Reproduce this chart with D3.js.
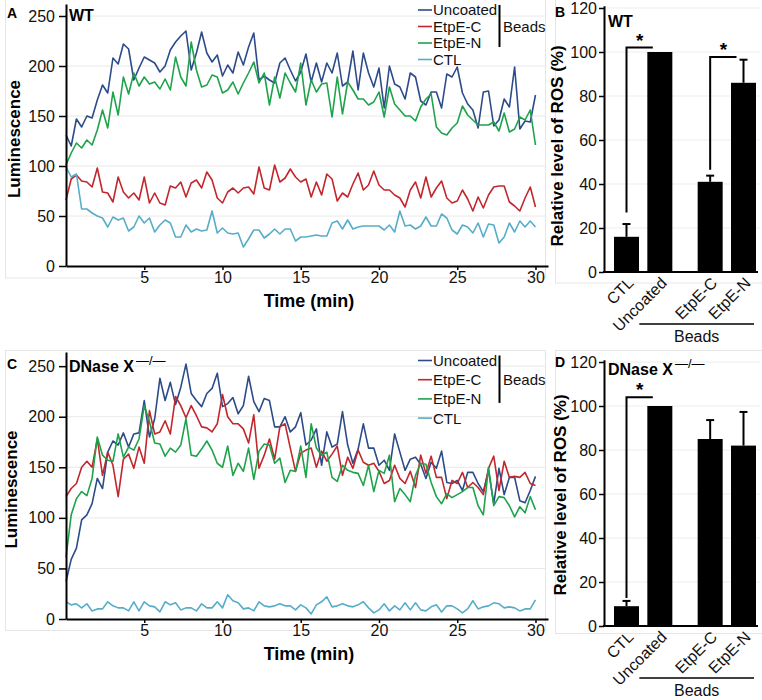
<!DOCTYPE html>
<html>
<head>
<meta charset="utf-8">
<script src="https://cdn.jsdelivr.net/npm/d3@7"></script>
<style>
  body { margin: 0; background: #fff; }
  svg { font-family: Arial, "Liberation Sans", sans-serif; }
</style>
</head>
<body>
<svg id="fig" width="762" height="700"></svg>
<script>
// sampling every 20 s over 30 min
const times = d3.range(91).map(i => i / 3);

const seriesNames = ['Uncoated', 'EtpE-C', 'EtpE-N', 'CTL'];
const seriesColors = ['#2c4b88', '#c1272d', '#1ea34b', '#57adc9'];

// panel A: WT
const wtUncoated = [131,120,147,139,150,148,166,181,173,208,202,222,217,186,198,209,206,203,194,200,216,224,230,235,196,213,234,213,204,211,190,
  201,193,214,201,219,233,186,190,186,183,203,208,196,185,194,212,184,203,184,203,193,213,180,184,215,176,213,193,179,198,158,
  200,182,179,167,193,189,165,161,174,174,158,192,189,199,173,162,156,138,174,175,140,146,167,159,199,137,145,144,171];
const wtEtpEC = [66,87,91,85,84,79,98,74,73,64,89,74,68,73,66,89,63,73,63,61,80,78,84,69,83,86,78,94,86,68,63,
  74,78,73,78,79,72,99,78,76,101,84,88,97,89,84,87,69,84,71,92,87,65,73,69,82,93,76,81,95,81,76,
  76,71,68,59,76,84,68,89,69,78,85,68,63,65,76,67,55,69,58,71,79,80,80,64,60,55,68,79,59];
const wtEtpEN = [101,113,123,118,126,121,136,156,138,174,151,189,172,193,180,189,182,184,177,187,176,209,189,180,224,196,179,181,191,189,173,
  176,184,172,183,193,204,183,193,161,189,168,193,183,174,203,161,186,174,182,183,149,189,152,184,176,167,167,161,164,174,149,
  179,162,156,150,150,145,159,167,172,139,133,131,138,143,160,151,146,141,141,141,144,135,153,134,137,149,146,156,121];
const wtCTL = [99,89,92,57,57,53,50,48,39,49,46,48,35,39,50,43,48,34,41,46,43,29,29,41,34,37,35,36,55,33,38,
  33,32,33,19,27,36,36,28,32,37,32,37,37,25,29,29,30,31,30,30,43,45,37,46,37,39,40,40,40,40,36,
  41,34,55,40,41,37,40,49,40,40,52,48,36,32,41,39,33,43,29,42,41,23,29,43,34,45,39,45,39];

// panel C: DNase X-/-
const koUncoated = [37,59,70,98,103,114,139,129,165,176,172,184,170,183,184,216,180,198,238,216,234,212,229,252,223,216,210,223,228,243,210,
  213,219,203,211,240,215,205,218,216,190,190,200,185,190,204,172,177,188,152,185,170,173,205,172,154,168,193,169,169,152,157,
  147,183,165,147,158,160,153,139,155,149,166,135,134,137,127,145,145,134,126,147,114,149,123,140,140,117,115,127,141];
const koEtpEC = [121,129,134,150,156,150,178,142,165,152,121,158,163,149,170,154,206,183,185,196,183,220,211,199,211,201,190,189,185,193,222,
  200,193,193,188,174,202,149,162,178,158,190,193,169,146,164,167,169,150,166,156,163,171,142,160,149,167,155,152,154,146,134,
  137,152,139,134,146,130,162,144,161,140,140,119,137,134,145,130,135,130,123,149,161,127,156,140,141,140,145,134,132];
const koEtpEN = [61,103,119,126,122,139,180,162,157,156,183,160,170,167,178,211,195,174,173,161,169,165,172,198,162,161,168,176,167,154,150,
  171,142,154,146,169,138,166,173,172,154,159,135,147,146,171,140,193,169,162,165,140,136,152,147,145,144,132,152,126,147,144,
  162,116,129,123,116,142,154,153,135,121,114,124,120,123,126,130,130,112,103,150,112,121,120,112,101,111,105,121,108];
const koCTL = [17,14,15,11,15,8,10,10,17,13,11,11,8,17,8,17,13,12,7,17,14,16,9,11,11,8,15,11,11,17,11,
  24,18,16,10,11,8,17,13,12,13,15,13,13,9,14,11,5,14,17,22,12,13,15,13,12,14,17,11,6,9,15,
  8,13,9,16,9,16,9,8,12,14,7,13,13,10,6,10,18,10,12,13,16,15,11,12,11,8,10,10,19];

const lineTicksY = [0, 50, 100, 150, 200, 250];
const lineTicksX = [5, 10, 15, 20, 25, 30];

// panels B and D
const barCategories = ['CTL', 'Uncoated', 'EtpE-C', 'EtpE-N'];
const wtBarMeans = [16, 100, 41, 86];
const wtBarErrors = [5.8, 0, 2.8, 10.5];
const koBarMeans = [9, 100, 85, 82];
const koBarErrors = [2.4, 0, 8.6, 15.3];
const barTicksY = [0, 20, 40, 60, 80, 100, 120];
const wtSignif = [['CTL', 'Uncoated', 27, 102], ['EtpE-C', 'EtpE-N', 46.5, 97.7]];
const koSignif = [['CTL', 'Uncoated', 12.7, 104]];

const svg = d3.select('#fig');

function styleAxis(g) {
  g.select('.domain').attr('stroke', '#000').attr('stroke-width', 2);
  g.selectAll('.tick line').attr('stroke', '#000').attr('stroke-width', 1.5);
  g.selectAll('.tick text').attr('fill', '#111').attr('font-size', 16);
}

function titleText(g, txt, sup, x, y) {
  const t = g.append('text').attr('x', x).attr('y', y)
    .attr('font-size', 16).attr('font-weight', 'bold').text(txt);
  if (sup) {
    t.append('tspan').attr('dx', 2).attr('dy', -7).attr('font-size', 13)
      .attr('font-weight', 'normal').text(sup);
  }
}

function linePanel(o) {
  const g = svg.append('g');
  g.append('rect').attr('x', 5.5).attr('y', o.boxTop).attr('width', 540).attr('height', o.boxH)
    .attr('fill', 'none').attr('stroke', '#e6e6e6');

  const x = d3.scaleLinear().domain([0, 30.8]).range([66, 548]);
  const y = d3.scaleLinear().domain([0, o.yMax]).range(o.yRange);

  g.selectAll('line.grid').data(lineTicksY.slice(1)).join('line')
    .attr('x1', 67).attr('x2', 545)
    .attr('y1', d => y(d)).attr('y2', d => y(d))
    .attr('stroke', '#e8e8e8').attr('stroke-width', 1);

  const line = d3.line().x((d, i) => x(times[i])).y(d => y(d));
  o.series.forEach((s, k) => {
    g.append('path').datum(s).attr('d', line)
      .attr('fill', 'none').attr('stroke', seriesColors[k]).attr('stroke-width', 1.6)
      .attr('stroke-linejoin', 'round');
  });

  const ax = g.append('g').attr('transform', `translate(0,${o.yRange[0]})`)
    .call(d3.axisBottom(x).tickValues(lineTicksX).tickSize(4).tickSizeOuter(0).tickPadding(2));
  styleAxis(ax);
  const ay = g.append('g').attr('transform', 'translate(66,0)')
    .call(d3.axisLeft(y).tickValues(lineTicksY).tickSize(7).tickSizeOuter(0).tickPadding(4));
  styleAxis(ay);

  g.append('text').attr('x', 309).attr('y', o.yRange[0] + 41)
    .attr('text-anchor', 'middle').attr('font-size', 18).attr('font-weight', 'bold').text('Time (min)');
  g.append('text').attr('transform', `translate(${o.yTitleX},${(o.yRange[0] + o.yRange[1]) / 2 + 4}) rotate(-90)`)
    .attr('text-anchor', 'middle').attr('font-size', 17).attr('font-weight', 'bold').text('Luminescence');

  g.append('text').attr('x', 7).attr('y', o.letterY).attr('font-size', 14)
    .attr('font-weight', 'bold').text(o.letter);
  titleText(g, o.title, o.sup, 69, o.titleY);

  // legend
  const lg = g.append('g');
  seriesNames.forEach((n, k) => {
    const cy = o.legendY + k * o.legendStep;
    lg.append('line').attr('x1', 418).attr('x2', 432).attr('y1', cy).attr('y2', cy)
      .attr('stroke', seriesColors[k]).attr('stroke-width', 1.6);
    lg.append('text').attr('x', 433).attr('y', cy).attr('dy', '0.36em')
      .attr('font-size', 15).attr('fill', '#111').text(n);
  });
  lg.append('line').attr('x1', 499.5).attr('x2', 499.5)
    .attr('y1', o.legendY - 5).attr('y2', o.legendY + 2 * o.legendStep + 4)
    .attr('stroke', '#000').attr('stroke-width', 2);
  lg.append('text').attr('x', 503).attr('y', o.legendY + o.legendStep).attr('dy', '0.36em')
    .attr('font-size', 15).attr('fill', '#111').text('Beads');
}

function barPanel(o) {
  const g = svg.append('g');
  g.append('rect').attr('x', 555.5).attr('y', o.boxTop).attr('width', 210).attr('height', o.boxH)
    .attr('fill', 'none').attr('stroke', '#e6e6e6');

  const y = d3.scaleLinear().domain([0, 121]).range(o.yRange);
  const xb = d3.scaleBand().domain(barCategories).range([604, 749]).paddingInner(0.25).paddingOuter(0.3);
  const gap = 17;
  const bx = d => xb(d) + (barCategories.indexOf(d) >= 2 ? gap : 0);
  const bw = xb.bandwidth();

  g.selectAll('line.grid').data(barTicksY.slice(1)).join('line')
    .attr('x1', 605).attr('x2', 760)
    .attr('y1', d => y(d)).attr('y2', d => y(d))
    .attr('stroke', '#ededed');

  g.selectAll('rect.bar').data(barCategories).join('rect')
    .attr('x', d => bx(d)).attr('width', bw)
    .attr('y', (d, i) => y(o.means[i])).attr('height', (d, i) => y(0) - y(o.means[i]))
    .attr('fill', '#000');

  barCategories.forEach((c, i) => {
    if (!o.errors[i]) return;
    const cx = bx(c) + bw / 2;
    g.append('line').attr('x1', cx).attr('x2', cx)
      .attr('y1', y(o.means[i])).attr('y2', y(o.means[i] + o.errors[i]))
      .attr('stroke', '#000').attr('stroke-width', 2);
    g.append('line').attr('x1', cx - 4).attr('x2', cx + 4)
      .attr('y1', y(o.means[i] + o.errors[i])).attr('y2', y(o.means[i] + o.errors[i]))
      .attr('stroke', '#000').attr('stroke-width', 2);
  });

  o.signif.forEach(([from, to, lo, hi]) => {
    const x1 = bx(from) + bw / 2;
    const x2 = bx(to) + bw * 0.22;
    g.append('path')
      .attr('d', `M${x1},${y(lo)}V${y(hi)}H${x2}`)
      .attr('fill', 'none').attr('stroke', '#000').attr('stroke-width', 2);
    g.append('text').attr('x', (x1 + x2) / 2).attr('y', y(hi) - 1)
      .attr('text-anchor', 'middle').attr('font-size', 19).attr('font-weight', 'bold').text('*');
  });

  const ay = g.append('g').attr('transform', 'translate(604,0)')
    .call(d3.axisLeft(y).tickValues(barTicksY).tickSize(5).tickSizeOuter(0).tickPadding(2));
  styleAxis(ay);
  g.append('line').attr('x1', 603).attr('x2', 758).attr('y1', y(0)).attr('y2', y(0))
    .attr('stroke', '#000').attr('stroke-width', 2);

  const base = y(0);
  barCategories.forEach(c => {
    g.append('text')
      .attr('transform', `translate(${bx(c) + bw / 2 + 4},${base + 8}) rotate(-45)`)
      .attr('text-anchor', 'end').attr('dy', '0.36em')
      .attr('font-size', 16).attr('fill', '#111').text(c);
  });
  const lx1 = bx('Uncoated') - 8;
  const lx2 = bx('EtpE-N') + bw - 2;
  g.append('line').attr('x1', lx1).attr('x2', lx2).attr('y1', base + 52).attr('y2', base + 52)
    .attr('stroke', '#000').attr('stroke-width', 1.5);
  g.append('text').attr('x', (lx1 + lx2) / 2).attr('y', base + 70)
    .attr('text-anchor', 'middle').attr('font-size', 16).attr('fill', '#111').text('Beads');

  g.append('text').attr('transform', `translate(${o.yTitleX},${o.yTitleY}) rotate(-90)`)
    .attr('text-anchor', 'middle').attr('font-size', 17).attr('font-weight', 'bold')
    .text('Relative level of ROS (%)');

  g.append('text').attr('x', 555).attr('y', o.letterY).attr('font-size', 14)
    .attr('font-weight', 'bold').text(o.letter);
  titleText(g, o.title, o.sup, 608, o.titleY);
}

linePanel({
  letter: 'A', letterY: 18, title: 'WT', sup: null, titleY: 21,
  series: [wtUncoated, wtEtpEC, wtEtpEN, wtCTL],
  yMax: 262, yRange: [266, 4], yTitleX: 20,
  boxTop: -1, boxH: 279, legendY: 10, legendStep: 16.5
});
barPanel({
  letter: 'B', letterY: 17, title: 'WT', sup: null, titleY: 27,
  means: wtBarMeans, errors: wtBarErrors, signif: wtSignif,
  yRange: [272, 5.8], yTitleX: 563, yTitleY: 146,
  boxTop: -1, boxH: 284
});
linePanel({
  letter: 'C', letterY: 369, title: 'DNase X', sup: '—/—', titleY: 372,
  series: [koUncoated, koEtpEC, koEtpEN, koCTL],
  yMax: 264, yRange: [619, 352], yTitleX: 17,
  boxTop: 350.5, boxH: 280, legendY: 360.5, legendStep: 19.2
});
barPanel({
  letter: 'D', letterY: 367, title: 'DNase X', sup: '—/—', titleY: 375,
  means: koBarMeans, errors: koBarErrors, signif: koSignif,
  yRange: [626, 359.8], yTitleX: 566, yTitleY: 495,
  boxTop: 350.5, boxH: 283
});
</script>
</body>
</html>
